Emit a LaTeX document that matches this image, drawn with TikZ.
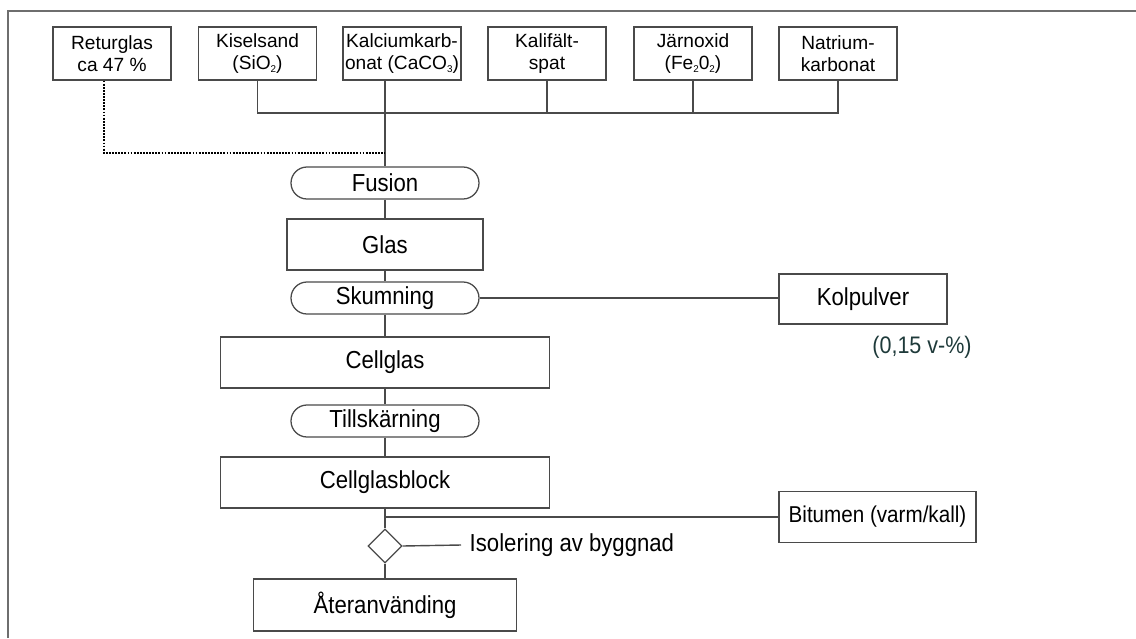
\documentclass[tikz,border=0pt]{standalone}
\usepackage{fontspec}
\setmainfont{Liberation Sans}
\newfontfamily\narrowfont[FakeStretch=0.9]{Liberation Sans}
\usetikzlibrary{calc,shapes.geometric}
\definecolor{linegray}{HTML}{4A4A4A}
\definecolor{notecol}{HTML}{1E3A3A}
\newcommand{\lowidx}[1]{\raisebox{-0.25ex}{\fontsize{7}{7}\selectfont #1}}
\tikzset{
  rawbox/.style={draw=linegray, line width=0.9pt, minimum width=118*0.025cm, minimum height=53*0.025cm,
    inner sep=0pt, align=center, font=\fontsize{13.6}{16}\selectfont},
  flowbox/.style={draw=linegray, line width=0.9pt, minimum height=51*0.025cm, inner sep=0pt,
    font=\narrowfont\fontsize{17.5}{19}\selectfont},
  pill/.style={flowbox, rounded corners=0.4cm, minimum width=188*0.025cm, minimum height=32*0.025cm},
  joint/.style={diamond, draw=linegray, line width=0.9pt, minimum width=34*0.025cm, minimum height=34*0.025cm, inner sep=0pt},
  link/.style={draw=linegray, line width=1pt}
}

\begin{document}
\begin{tikzpicture}[x=0.025cm, y=-0.025cm]
			%%%%% START %%%%%
			\useasboundingbox (0, 0) rectangle (1136, 638);
			\draw[linegray!80, line width=1.1pt] (8, 638) -- (8, 11) -- (1136, 11);
			
			% raw materials
			\node[rawbox] (ret) at (112, 53.5) {Returglas\\ca 47 \%};
			\node[rawbox] (kis) at (257.5, 53.5) {Kiselsand\\(SiO\lowidx{2})};
			\node[rawbox] (kal) at (402, 53.5) {Kalciumkarb-\\onat (CaCO\lowidx{3})};
			\node[rawbox] (kali) at (547, 53.5) {Kalifält-\\spat};
			\node[rawbox] (jarn) at (693, 53.5) {Järnoxid\\(Fe\lowidx{2}0\lowidx{2})};
			\node[rawbox] (nat) at (838, 53.5) {Natrium-\\karbonat};
			
			% main line
			\node[pill] (fus) at (385, 183) {Fusion};
			\node[flowbox, minimum width=196*0.025cm] (glas) at (385, 244.5) {Glas};
			\node[pill] (skum) at (385, 298) {Skumning};
			\node[flowbox, minimum width=168*0.025cm, minimum height=50*0.025cm] (kol) at (863, 299) {Kolpulver};
			\node[text=notecol, font=\narrowfont\fontsize{17}{19}\selectfont] (note) at (922, 347) {(0,15 v-\%)};
			\node[flowbox, minimum width=329*0.025cm] (cell) at (385, 362.5) {Cellglas};
			\node[pill] (till) at (385, 421) {Tillskärning};
			\node[flowbox, minimum width=329*0.025cm] (block) at (385, 482.5) {Cellglasblock};
			\node[flowbox, minimum width=197*0.025cm, font=\narrowfont\fontsize{16.3}{19}\selectfont] (bit) at (877.5, 517) {Bitumen (varm/kall)};
			\node[joint] (dia) at (385, 546) {};
			\node[anchor=west, font=\narrowfont\fontsize{17.5}{19}\selectfont, inner sep=6pt] (isol) at (461, 545) {Isolering av byggnad};
			\node[flowbox, minimum width=263*0.025cm, minimum height=52*0.025cm] (ater) at (385, 605) {Återanvänding};
			
			\coordinate (bus) at (385, 113);
			\coordinate (dotc) at (385, 153);
			\coordinate (bitj) at (385, 517);
			
			\draw[link] (kis.south) -- (kis.south |- bus) -- (nat.south |- bus) -- (nat.south);
			\draw[link] (kali.south) -- (kali.south |- bus);
			\draw[link] (jarn.south) -- (jarn.south |- bus);
			\draw[link] (fus.north |- kal.south) -- (fus.north);
			\draw[black, line width=2pt, dash pattern=on 1.3pt off 0.9pt] ($(ret.south)+(-8,0)$) -- ($(ret.south |- dotc)+(-8,0)$) -- (dotc);
			
			\draw[link] (fus) -- (glas) -- (skum) -- (cell) -- (till) -- (block) -- (dia) -- (ater);
			\draw[link] (skum.east) -- (skum.east -| kol.west);
			\draw[link] (bitj) -- (bit.west);
			\draw[link] (dia.east) -- (isol.west);
			
			%%%%% END %%%%%
		\end{tikzpicture}
\end{document}
